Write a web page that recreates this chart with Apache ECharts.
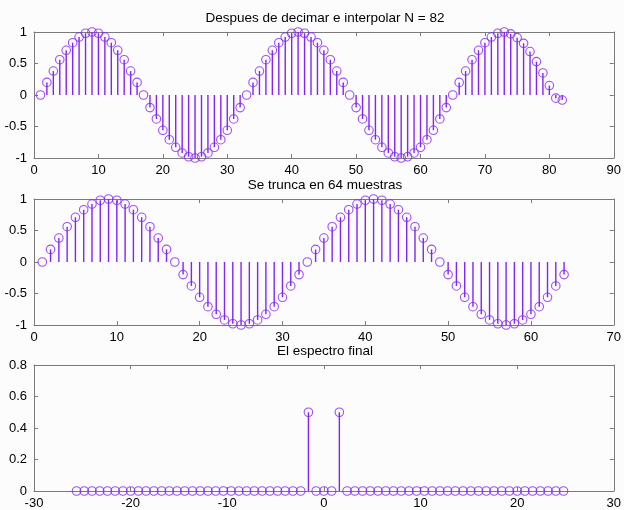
<!DOCTYPE html>
<html>
<head>
<meta charset="utf-8">
<script src="https://cdn.jsdelivr.net/npm/echarts@6/dist/echarts.min.js"></script>
<style>
  html, body { margin: 0; padding: 0; background: #fcfcfc; }
  #chart { width: 624px; height: 510px; }
</style>
</head>
<body>
<div id="chart"></div>
<script>
// Panel 1: despues de decimar e interpolar (N = 82)
var n1 = [1,2,3,4,5,6,7,8,9,10,11,12,13,14,15,16,17,18,19,20,21,22,23,24,25,26,27,28,29,30,31,32,
          33,34,35,36,37,38,39,40,41,42,43,44,45,46,47,48,49,50,51,52,53,54,55,56,57,58,59,60,61,62,63,64,
          65,66,67,68,69,70,71,72,73,74,75,76,77,78,79,80,81,82];
var y1 = [0,0.2,0.38,0.56,0.71,0.83,0.92,0.98,1,0.98,0.92,0.83,0.71,0.56,0.38,0.2,
          0,-0.2,-0.38,-0.56,-0.71,-0.83,-0.92,-0.98,-1,-0.98,-0.92,-0.83,-0.71,-0.56,-0.38,-0.2,
          0,0.2,0.38,0.56,0.71,0.83,0.92,0.98,1,0.98,0.92,0.83,0.71,0.56,0.38,0.2,
          0,-0.2,-0.38,-0.56,-0.71,-0.83,-0.92,-0.98,-1,-0.98,-0.92,-0.83,-0.71,-0.56,-0.38,-0.2,
          0,0.2,0.38,0.56,0.71,0.83,0.92,0.98,1,0.97,0.91,0.82,0.69,0.53,0.35,0.15,-0.05,-0.08];

// Panel 2: se trunca en 64 muestras
var n2 = [1,2,3,4,5,6,7,8,9,10,11,12,13,14,15,16,17,18,19,20,21,22,23,24,25,26,27,28,29,30,31,32,
          33,34,35,36,37,38,39,40,41,42,43,44,45,46,47,48,49,50,51,52,53,54,55,56,57,58,59,60,61,62,63,64];
var y2 = [0,0.2,0.38,0.56,0.71,0.83,0.92,0.98,1,0.98,0.92,0.83,0.71,0.56,0.38,0.2,
          0,-0.2,-0.38,-0.56,-0.71,-0.83,-0.92,-0.98,-1,-0.98,-0.92,-0.83,-0.71,-0.56,-0.38,-0.2,
          0,0.2,0.38,0.56,0.71,0.83,0.92,0.98,1,0.98,0.92,0.83,0.71,0.56,0.38,0.2,
          0,-0.2,-0.38,-0.56,-0.71,-0.83,-0.92,-0.98,-1,-0.98,-0.92,-0.83,-0.71,-0.56,-0.38,-0.2];

// Panel 3: el espectro final
var f3 = [-25.6,-24.8,-24,-23.2,-22.4,-21.6,-20.8,-20,-19.2,-18.4,-17.6,-16.8,-16,-15.2,-14.4,-13.6,
          -12.8,-12,-11.2,-10.4,-9.6,-8.8,-8,-7.2,-6.4,-5.6,-4.8,-4,-3.2,-2.4,-1.6,-0.8,
          0,0.8,1.6,2.4,3.2,4,4.8,5.6,6.4,7.2,8,8.8,9.6,10.4,11.2,12,
          12.8,13.6,14.4,15.2,16,16.8,17.6,18.4,19.2,20,20.8,21.6,22.4,23.2,24,24.8];
var y3 = [0,0,0,0,0,0,0,0,0,0,0,0,0,0,0,0,0,0,0,0,0,0,0,0,0,0,0,0,0,0,0.5,0,
          0,0,0.5,0,0,0,0,0,0,0,0,0,0,0,0,0,0,0,0,0,0,0,0,0,0,0,0,0,0,0,0,0];

var titles = ['Despues de decimar e interpolar N = 82', 'Se trunca en 64 muestras', 'El espectro final'];

document.addEventListener("DOMContentLoaded", function () {
    var chartDom = document.getElementById('chart');
    var myChart = echarts.init(chartDom);

    var stemColor = '#8424f2';
    var boxColor = '#7a7a7a';
    var font = 'Liberation Sans';

    var panels = [
        { x: n1, y: y1, xmin: 0, xmax: 90, xint: 10, ymin: -1, ymax: 1, yint: 0.5, top: 32 },
        { x: n2, y: y2, xmin: 0, xmax: 70, xint: 10, ymin: -1, ymax: 1, yint: 0.5, top: 199 },
        { x: f3, y: y3, xmin: -30, xmax: 30, xint: 10, ymin: 0, ymax: 0.8, yint: 0.2, top: 365 }
    ];

    var grid = [], xAxis = [], yAxis = [], series = [], title = [];

    panels.forEach(function (p, i) {
        grid.push({ left: 34, top: p.top, width: 583, height: 126 });
        title.push({
            text: titles[i], left: 325, top: p.top - 21, textAlign: 'center', padding: 0,
            textStyle: { fontFamily: font, fontSize: 13.5, fontWeight: 'normal', color: '#000' }
        });

        // bottom / left axes with labels
        xAxis.push({
            type: 'value', gridIndex: i, position: 'bottom',
            min: p.xmin, max: p.xmax, interval: p.xint,
            axisLine: { onZero: false, lineStyle: { color: boxColor, width: 1 } },
            axisTick: { inside: true, length: 4, lineStyle: { color: boxColor } },
            axisLabel: { color: '#000', fontFamily: font, fontSize: 13, margin: 6 },
            splitLine: { show: false }
        });
        yAxis.push({
            type: 'value', gridIndex: i, position: 'left',
            min: p.ymin, max: p.ymax, interval: p.yint,
            axisLine: { onZero: false, lineStyle: { color: boxColor, width: 1 } },
            axisTick: { inside: true, length: 4, lineStyle: { color: boxColor } },
            axisLabel: { color: '#000', fontFamily: font, fontSize: 13, margin: 7 },
            splitLine: { show: false }
        });
    });

    // top / right mirror axes for the box
    panels.forEach(function (p, i) {
        xAxis.push({
            type: 'value', gridIndex: i, position: 'top',
            min: p.xmin, max: p.xmax, interval: p.xint,
            axisLine: { onZero: false, lineStyle: { color: boxColor, width: 1 } },
            axisTick: { inside: true, length: 4, lineStyle: { color: boxColor } },
            axisLabel: { show: false },
            splitLine: { show: false }
        });
        yAxis.push({
            type: 'value', gridIndex: i, position: 'right',
            min: p.ymin, max: p.ymax, interval: p.yint,
            axisLine: { onZero: false, lineStyle: { color: boxColor, width: 1 } },
            axisTick: { inside: true, length: 4, lineStyle: { color: boxColor } },
            axisLabel: { show: false },
            splitLine: { show: false }
        });
    });

    panels.forEach(function (p, i) {
        var pts = p.x.map(function (v, k) { return [v, p.y[k]]; });
        series.push({
            type: 'custom',
            xAxisIndex: i, yAxisIndex: i,
            encode: { x: 0, y: 1 },
            silent: true,
            renderItem: function (params, api) {
                var tip = api.coord([api.value(0), api.value(1)]);
                var base = api.coord([api.value(0), 0]);
                return {
                    type: 'line',
                    shape: { x1: base[0], y1: base[1], x2: tip[0], y2: tip[1] },
                    style: { stroke: stemColor, lineWidth: 1.4 }
                };
            },
            data: pts
        });
        series.push({
            type: 'scatter',
            xAxisIndex: i, yAxisIndex: i,
            symbol: 'circle',
            symbolSize: 8.5,
            silent: true,
            itemStyle: { color: 'rgba(0,0,0,0)', borderColor: stemColor, borderWidth: 1.1 },
            data: pts
        });
    });

    var option = {
        backgroundColor: '#fcfcfc',
        animation: false,
        title: title,
        grid: grid,
        xAxis: xAxis,
        yAxis: yAxis,
        series: series
    };

    myChart.setOption(option);
});
</script>
</body>
</html>
